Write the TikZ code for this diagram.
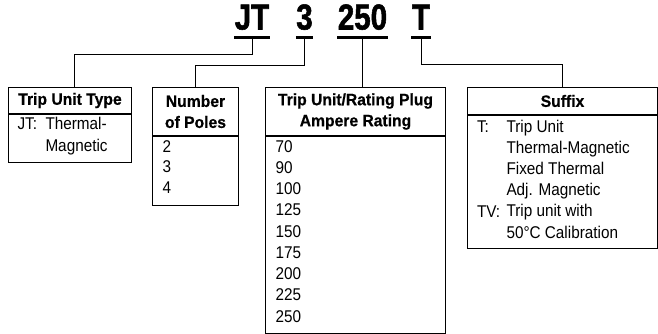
\documentclass[tikz,border=0pt]{standalone}
\usepackage{fontspec}
\setmainfont[FakeStretch=0.9]{Liberation Sans}
\newfontfamily\codefont[FakeStretch=0.82,BoldFeatures={FakeBold=1.5}]{Liberation Sans}
\newfontfamily\headfont[FakeStretch=0.95,BoldFeatures={FakeBold=0.6}]{Liberation Sans}
\usepackage{tikz}
\usetikzlibrary{calc}
\tikzset{codetxt/.style={inner sep=0pt,anchor=base,font=\codefont\bfseries\fontsize{36}{36}\selectfont},
  headbox/.style={draw,anchor=north west,inner sep=0pt,align=center,font=\headfont\bfseries\fontsize{16.5}{21}\selectfont},
  bodybox/.style={draw,anchor=north west,inner sep=0pt},
  bodytxt/.style={inner sep=0pt,anchor=base west,font=\fontsize{17}{21}\selectfont},
  uline/.style={line width=3pt},
  lead/.style={line width=1pt}}

\begin{document}
\begin{tikzpicture}[x=1pt,y=-1pt,line join=miter,line width=1pt]
\useasboundingbox (0,0) rectangle (658,333);
% --- catalogue number
\node[codetxt] (codejt) at (252,29.5) {JT};
\node[codetxt] (code3) at (304.5,29.5) {3};
\node[codetxt] (code250) at (362.5,29.5) {250};
\node[codetxt] (codet) at (421,29.5) {T};
\foreach \c in {codejt,code3,code250,codet}
  \draw[uline] ([yshift=-8pt]\c.base west) -- ([yshift=-8pt]\c.base east);
% --- boxes
\node[headbox,minimum width=123pt,minimum height=26pt] (typehead) at (8,87) {Trip Unit Type};
\node[bodybox,minimum width=123pt,minimum height=48pt] (typebody) at (typehead.south west) {};
\node[headbox,minimum width=86pt,minimum height=48pt] (poleshead) at (152,87) {Number\\of Poles};
\node[bodybox,minimum width=86pt,minimum height=69pt] (polesbody) at (poleshead.south west) {};
\node[headbox,minimum width=180pt,minimum height=48pt] (ratehead) at (265,87) {Trip Unit/Rating Plug\\Ampere Rating};
\node[bodybox,minimum width=180pt,minimum height=197pt] (ratebody) at (ratehead.south west) {};
\node[headbox,minimum width=190pt,minimum height=27pt] (suffhead) at (467,87) {Suffix};
\node[bodybox,minimum width=190pt,minimum height=133pt] (suffbody) at (suffhead.south west) {};
% --- leaders
\draw[lead] ([yshift=-8pt]codejt.base) -- ++(0,17) -| ([xshift=4pt]typehead.north);
\draw[lead] ([yshift=-8pt]code3.base) -- ++(0,28) -| (poleshead.north);
\draw[lead] ([yshift=-8pt]code250.base) -- (code250.base |- ratehead.north);
\draw[lead] ([yshift=-8pt]codet.base) -- ++(0,27) -| (suffhead.north);
% --- entries
\node[bodytxt] (typejt) at (17,129.5) {JT:};
\node[bodytxt] (typel1) at (45,129.5) {Thermal-};
\node[bodytxt] (typel2) at (45,151) {Magnetic};
\foreach \p [count=\i] in {2,3,4}
  \node[bodytxt] (pole\i) at (162,{152+20.5*(\i-1)}) {\p};
\foreach \a [count=\i] in {70,90,100,125,150,175,200,225,250}
  \node[bodytxt] (amp\i) at (275,{152+21.25*(\i-1)}) {\a};
\node[bodytxt] (suffta) at (476.5,132) {T:};
\node[bodytxt] (sufftv) at (476.5,217) {TV:};
\foreach \s [count=\i] in {Trip Unit,Thermal-Magnetic,Fixed Thermal,Adj. Magnetic,Trip unit with,50°C Calibration}
  \node[bodytxt] (suff\i) at (506,{132+21.2*(\i-1)}) {\s};
\end{tikzpicture}
\end{document}
